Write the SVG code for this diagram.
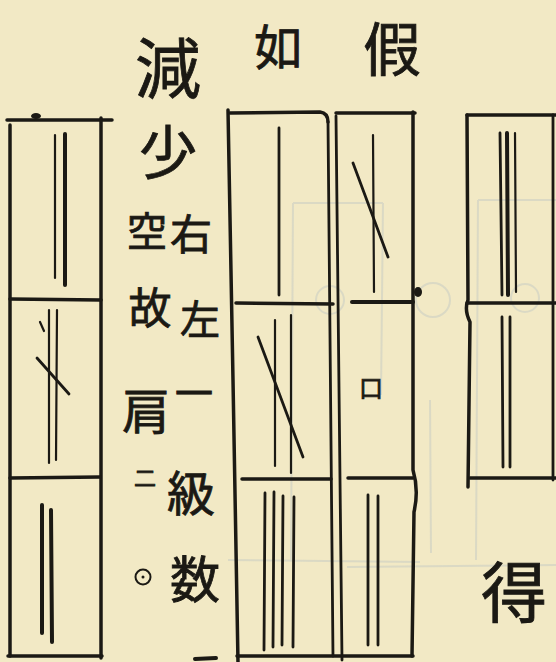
<svg xmlns="http://www.w3.org/2000/svg" width="556" height="662" viewBox="0 0 556 662">
  <defs>
    <style>
      .ink { fill: none; stroke: #1b1914; stroke-linecap: round; stroke-linejoin: round; }
      .box { stroke-width: 3.5; }
      .rod { stroke-width: 2.8; }
      .thick { stroke-width: 4; }
      .thin { stroke-width: 2.2; }
      .ghost { fill: none; stroke: #a7b6c2; stroke-width: 2; opacity: 0.3; }
      .txt { font-family: "Noto Sans CJK JP", "Noto Sans CJK SC", sans-serif; fill: #1b1914; stroke: #1b1914; stroke-width: 0.8; text-anchor: middle; dominant-baseline: central; }
    </style>
  </defs>

  <rect x="0" y="0" width="556" height="662" fill="#f2e9c5"/>

  <!-- faint show-through from the reverse page -->
  <g id="show-through">
    <path class="ghost" d="M293 203 L383 203 M293 203 L291 560 M383 203 L381 395 M478 200 L556 200 M478 200 L476 560 M347 567 L556 565 M430 400 L431 553 M228 560 L420 562"/>
    <circle class="ghost" cx="330" cy="300" r="14"/>
    <circle class="ghost" cx="433" cy="300" r="17"/>
    <circle class="ghost" cx="525" cy="298" r="14"/>
  </g>

  <!-- heading text -->
  <g id="heading">
    <text class="txt" x="392" y="46" font-size="58">假</text>
    <text class="txt" x="278" y="44" font-size="48">如</text>
    <text class="txt" x="168" y="64" font-size="66">減</text>
    <text class="txt" x="168" y="149" font-size="58">少</text>
  </g>

  <!-- explanatory text columns -->
  <g id="note">
    <text class="txt" x="191" y="231" font-size="42">右</text>
    <text class="txt" x="200" y="317" font-size="40">左</text>
    <text class="txt" x="194" y="390" font-size="38">一</text>
    <text class="txt" x="191" y="490" font-size="48">級</text>
    <text class="txt" x="195" y="576" font-size="50">数</text>
    <text class="txt" x="147" y="229" font-size="40">空</text>
    <text class="txt" x="150" y="305" font-size="43">故</text>
    <text class="txt" x="146" y="408" font-size="48">肩</text>
    <text class="txt" x="145" y="476" font-size="22">二</text>
    <circle cx="143" cy="577" r="7.5" fill="none" stroke="#1b1914" stroke-width="2"/>
    <circle cx="143" cy="577" r="1.5" fill="#1b1914"/>
    <path class="ink thick" d="M195 659 L216 658"/>
  </g>

  <!-- left counting board -->
  <g id="board-left">
    <path class="ink box" d="M7 120 L112 120"/>
    <ellipse cx="36" cy="116" rx="5" ry="3" fill="#1b1914"/>
    <path class="ink box" d="M10 125 L10 656"/>
    <path class="ink box" d="M101 118 L101 658"/>
    <path class="ink box" d="M10 299 L101 300"/>
    <path class="ink box" d="M10 478 L100 477"/>
    <path class="ink box" d="M8 656 L102 656"/>
    <path class="ink thin" d="M55 135 L55 278"/>
    <path class="ink thick" d="M65 134 L65 285"/>
    <path class="ink thin" d="M49 310 L49 463"/>
    <path class="ink thin" d="M57 310 L56 460"/>
    <path class="ink rod" d="M37 358 L69 394"/>
    <path class="ink thin" d="M40 322 L44 331"/>
    <path class="ink thick" d="M42 505 L42 633"/>
    <path class="ink thick" d="M51 510 L52 642"/>
  </g>

  <!-- middle counting board -->
  <g id="board-middle">
    <path class="ink box" d="M228 110 L233 380 L238 662"/>
    <path class="ink box" d="M230 113 L320 112 Q328 113 328 122"/>
    <path class="ink box" d="M336 113 L415 113"/>
    <path class="ink rod" d="M328 122 L333 656"/>
    <path class="ink rod" d="M336 116 L342 660"/>
    <path class="ink box" d="M413 112 L413 470 Q419 490 414 512 L412 656"/>
    <path class="ink box" d="M236 303 L333 304"/>
    <path class="ink thick" d="M352 302 L413 302"/>
    <ellipse cx="418" cy="292" rx="4" ry="5" fill="#1b1914"/>
    <path class="ink box" d="M242 479 L331 479"/>
    <path class="ink box" d="M348 478 L413 478"/>
    <path class="ink box" d="M237 656 L413 656"/>
    <path class="ink rod" d="M279 128 L279 295"/>
    <path class="ink thin" d="M275 320 L275 466"/>
    <path class="ink thin" d="M291 315 L291 473"/>
    <path class="ink rod" d="M258 337 L303 457"/>
    <path class="ink rod" d="M265 493 L264 650"/>
    <path class="ink rod" d="M274 492 L273 647"/>
    <path class="ink rod" d="M283 496 L282 645"/>
    <path class="ink rod" d="M294 497 L293 647"/>
    <path class="ink thin" d="M373 135 L374 292"/>
    <path class="ink rod" d="M353 163 L388 257"/>
    <text class="txt" x="371" y="386" font-size="24">口</text>
    <path class="ink rod" d="M368 495 L368 645"/>
    <path class="ink rod" d="M378 496 L378 645"/>
  </g>

  <!-- right counting board -->
  <g id="board-right">
    <path class="ink box" d="M467 115 L468 300 Q464 310 470 322 L468 487"/>
    <path class="ink box" d="M467 115 L556 115"/>
    <path class="ink box" d="M467 303 L556 303"/>
    <path class="ink box" d="M470 478 L556 478"/>
    <path class="ink rod" d="M553 115 L553 480"/>
    <path class="ink rod" d="M500 133 L502 295"/>
    <path class="ink thick" d="M507 133 L508 295"/>
    <path class="ink thin" d="M515 133 L516 292"/>
    <path class="ink rod" d="M502 317 L503 467"/>
    <path class="ink rod" d="M510 317 L510 467"/>
    <text class="txt" x="514" y="588" font-size="66">得</text>
  </g>
</svg>
